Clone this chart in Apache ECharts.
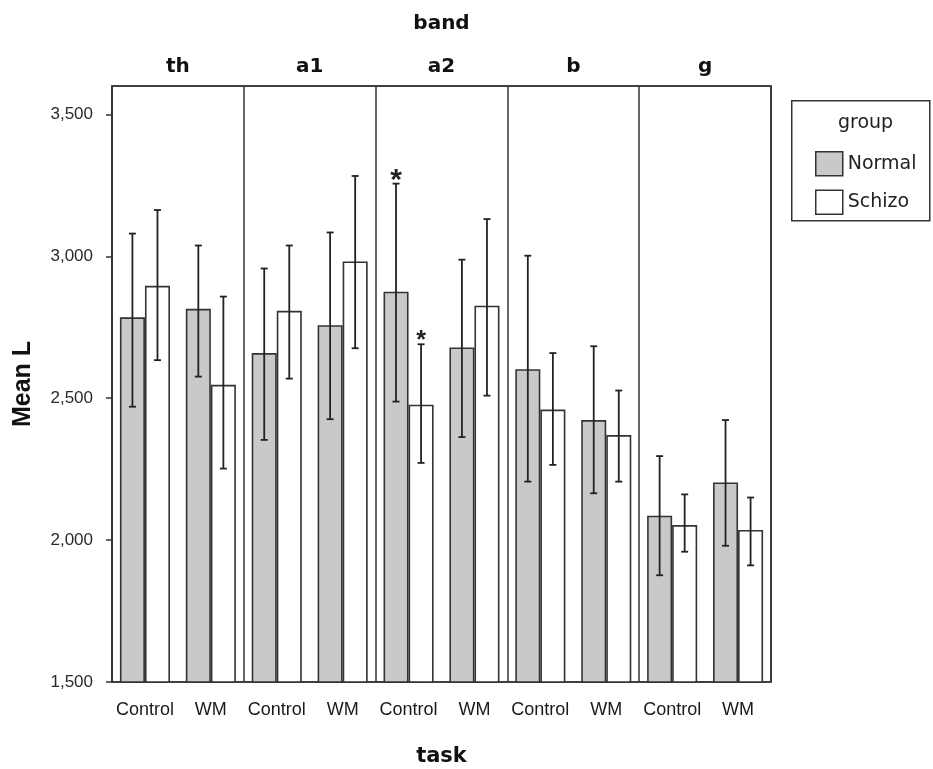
<!DOCTYPE html>
<html>
<head>
<meta charset="utf-8">
<script src="https://cdn.jsdelivr.net/npm/echarts@6/dist/echarts.min.js"></script>
<style>
  html, body { margin: 0; padding: 0; background: #fff; }
  #chart { width: 933px; height: 769px; }
</style>
</head>
<body>
<div id="chart"></div>
<script>
// categories
const bands = ['th', 'a1', 'a2', 'b', 'g'];
const tasks = ['Control', 'WM', 'Control', 'WM', 'Control', 'WM', 'Control', 'WM', 'Control', 'WM'];

// Normal group: mean and error bar ends
const normalMean = [2785, 2815, 2659, 2757, 2875, 2679, 2602, 2423, 2086, 2203];
const normalLow = [2470, 2576, 2353, 2426, 2488, 2363, 2206, 2165, 1876, 1980];
const normalHigh = [3080, 3038, 2957, 3084, 3256, 2988, 3002, 2683, 2296, 2423];
const normalMark = ['', '', '', '', '*', '', '', '', '', ''];

// Schizo group
const schizoMean = [2896, 2547, 2808, 2982, 2477, 2826, 2460, 2370, 2053, 2036];
const schizoLow = [2634, 2252, 2569, 2676, 2272, 2509, 2265, 2206, 1959, 1911];
const schizoHigh = [3163, 2858, 3038, 3283, 2690, 3131, 2659, 2527, 2161, 2150];
const schizoMark = ['', '', '', '', '*', '', '', '', '', ''];

const yTicks = [1500, 2000, 2500, 3000, 3500];

const BAR_RATIO = 0.38;
const INK = '#222';
const SANS = '"Liberation Sans", Arial, sans-serif';
const DEJAVU = '"DejaVu Sans", sans-serif';

const chart = echarts.init(document.getElementById('chart'));

function errorRender(side, marks, starSize) {
  return function (params, api) {
    const i = api.value(0);
    const band = api.size([1, 0])[0];
    const dx = side * band * BAR_RATIO / 2;
    const hi = api.coord([i, api.value(2)]);
    const lo = api.coord([i, api.value(1)]);
    const x = hi[0] + dx;
    const cap = 3.5;
    const style = { stroke: INK, lineWidth: 1.8 };
    const children = [
      { type: 'line', shape: { x1: x, y1: hi[1], x2: x, y2: lo[1] }, style },
      { type: 'line', shape: { x1: x - cap, y1: hi[1], x2: x + cap, y2: hi[1] }, style },
      { type: 'line', shape: { x1: x - cap, y1: lo[1], x2: x + cap, y2: lo[1] }, style }
    ];
    if (marks[i]) {
      children.push({
        type: 'text',
        style: {
          text: marks[i], x: x, y: hi[1] - 3,
          fill: INK, font: 'bold ' + starSize + 'px ' + SANS,
          align: 'center', verticalAlign: 'middle'
        }
      });
    }
    return { type: 'group', children };
  };
}

const option = {
  backgroundColor: '#fff',
  animation: false,
  grid: {
    left: 112, right: 162, top: 86, bottom: 87,
    outerBoundsMode: 'none',
    containLabel: false,
    show: true, borderColor: '#333', borderWidth: 1.5, backgroundColor: '#fff'
  },
  legend: {
    orient: 'vertical',
    left: 810, top: 146,
    itemWidth: 27, itemHeight: 24, itemGap: 13,
    icon: 'rect',
    textStyle: { fontFamily: DEJAVU, fontSize: 19, color: '#222' },
    data: [
      { name: 'Normal', itemStyle: { color: '#c9c9c9', borderColor: '#333', borderWidth: 1.5 } },
      { name: 'Schizo', itemStyle: { color: '#fff', borderColor: '#333', borderWidth: 1.5 } }
    ]
  },
  graphic: [
    {
      type: 'rect', left: 791, top: 100,
      shape: { width: 138, height: 120 },
      style: { fill: '#fff', stroke: '#333', lineWidth: 1.5 },
      z: -1
    },
    {
      type: 'text', left: 838, top: 114,
      style: { text: 'group', font: '19px ' + DEJAVU, fill: '#222' }
    }
  ],
  xAxis: [
    {
      type: 'category',
      data: tasks,
      position: 'bottom',
      name: 'task',
      nameLocation: 'middle',
      nameGap: 64,
      nameTextStyle: { fontFamily: DEJAVU, fontWeight: 'bold', fontSize: 21, color: '#111' },
      axisLine: { lineStyle: { color: '#333', width: 1.5 } },
      axisTick: { alignWithLabel: true, length: 10, lineStyle: { color: '#333', width: 1.5 } },
      axisLabel: { interval: 0, margin: 19, fontFamily: SANS, fontSize: 18, color: '#1a1a1a' },
      splitLine: { show: false }
    },
    {
      type: 'category',
      data: bands,
      position: 'top',
      name: 'band',
      nameLocation: 'middle',
      nameGap: 52,
      nameTextStyle: { fontFamily: DEJAVU, fontWeight: 'bold', fontSize: 20, color: '#111' },
      axisLine: { lineStyle: { color: '#333', width: 1.5 } },
      axisTick: { show: false },
      axisLabel: { margin: 9, fontFamily: DEJAVU, fontWeight: 'bold', fontSize: 20, color: '#111' },
      splitLine: { show: true, lineStyle: { color: '#333', width: 1.5 } }
    }
  ],
  yAxis: {
    type: 'value',
    min: 1500,
    max: 3600,
    interval: 500,
    name: 'Mean L',
    nameLocation: 'middle',
    nameGap: 76,
    nameTextStyle: { fontFamily: SANS, fontWeight: 'bold', fontSize: 25, color: '#111' },
    axisLine: { show: true, lineStyle: { color: '#333', width: 1.5 } },
    axisTick: { show: true, length: 6, lineStyle: { color: '#333', width: 1.5 } },
    axisLabel: {
      margin: 19, fontFamily: SANS, fontSize: 17, color: '#2a2a2a',
      showMaxLabel: false,
      formatter: (v) => yTicks.indexOf(v) >= 0 ? v.toLocaleString('en-US') : ''
    },
    splitLine: { show: false }
  },
  series: [
    {
      name: 'Normal',
      type: 'bar',
      xAxisIndex: 0,
      data: normalMean,
      barWidth: (BAR_RATIO * 100) + '%',
      barGap: '0%',
      itemStyle: { color: '#c9c9c9', borderColor: '#333', borderWidth: 1.6 }
    },
    {
      name: 'Schizo',
      type: 'bar',
      xAxisIndex: 0,
      data: schizoMean,
      barWidth: (BAR_RATIO * 100) + '%',
      barGap: '0%',
      itemStyle: { color: '#fff', borderColor: '#333', borderWidth: 1.6 }
    },
    {
      type: 'custom',
      xAxisIndex: 0,
      renderItem: errorRender(-1, normalMark, 30),
      encode: { x: 0, y: [1, 2] },
      data: normalMean.map((_, i) => [i, normalLow[i], normalHigh[i]]),
      z: 5
    },
    {
      type: 'custom',
      xAxisIndex: 0,
      renderItem: errorRender(1, schizoMark, 25),
      encode: { x: 0, y: [1, 2] },
      data: schizoMean.map((_, i) => [i, schizoLow[i], schizoHigh[i]]),
      z: 5
    }
  ]
};

chart.setOption(option);
window.addEventListener('resize', () => chart.resize());
</script>
</body>
</html>
